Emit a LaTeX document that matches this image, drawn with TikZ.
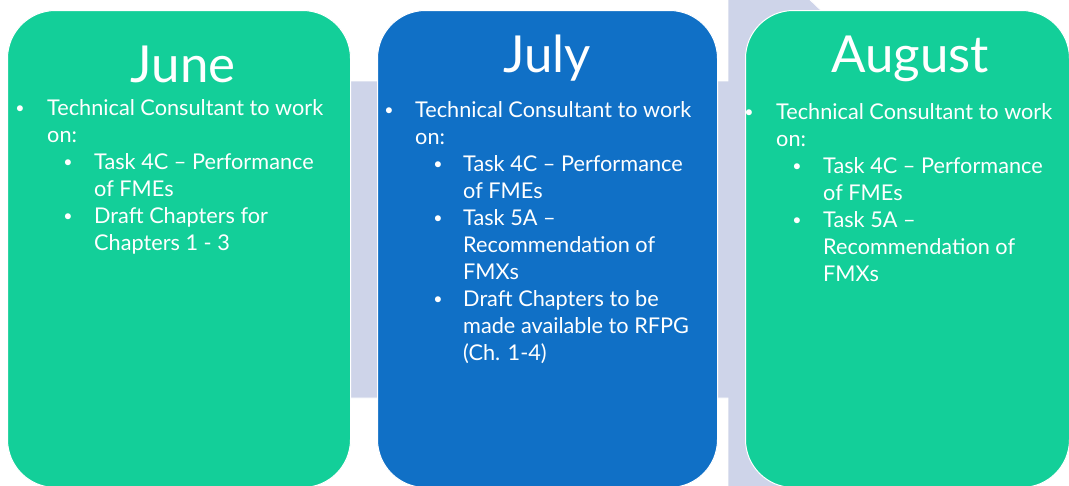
\documentclass[tikz,border=0pt]{standalone}
\usepackage{fontspec}
\setmainfont{Lato}
\definecolor{mgreen}{RGB}{19,207,153}
\definecolor{mblue}{RGB}{16,112,198}
\definecolor{mlav}{RGB}{206,212,233}
\tikzset{
  monthbox/.style={draw=white, line width=1pt, rounded corners=48pt, anchor=north west, inner sep=0pt},
  monthtitle/.style={text=white, font=\fontsize{51}{60}\selectfont, anchor=base, inner sep=0pt},
  item/.style={text=white, font=\fontsize{21.7}{27}\selectfont, anchor=base west, inner sep=0pt},
  dot/.style={text=white, font=\fontsize{16}{27}\selectfont, anchor=base, inner sep=0pt, yshift=1.5pt},
}
\begin{document}
\begin{tikzpicture}[x=1pt,y=-1pt]
\useasboundingbox (0,0) rectangle (1069,485);
\clip (0,0) rectangle (1069,485);
\fill[white] (0,0) rectangle (1069,485);
% background arrow
\draw[fill=mlav, draw=white, line width=0.8pt] (30,81) -- (728,81) -- (728,-79) -- (1060,240) -- (728,559) -- (728,398) -- (30,398) -- cycle;
% month boxes
\node[monthbox, fill=mgreen, minimum width=343pt, minimum height=477pt] (june) at (7,10) {};
\node[monthbox, fill=mblue, minimum width=340pt, minimum height=477pt] (july) at (377,10) {};
\node[monthbox, fill=mgreen, minimum width=324pt, minimum height=477pt] (aug) at (745,10) {};
% titles
\node[monthtitle] (tjune) at (183,82) {June};
\node[monthtitle] (tjuly) at (547,72) {July};
\node[monthtitle] (taug) at (910,72) {August};
% June
\node[dot] (jb1) at (20,115) {•};
\node[item] (j1) at (47,115) {Technical Consultant to work};
\node[item] (j2) at (47,142) {on:};
\node[dot] (jb2) at (68,169) {•};
\node[item] (j3) at (94,169) {Task 4C – Performance};
\node[item] (j4) at (94,196) {of FMEs};
\node[dot] (jb3) at (68,223) {•};
\node[item] (j5) at (94,223) {Draft Chapters for};
\node[item] (j6) at (94,250) {Chapters 1 - 3};
% July
\node[dot] (lb1) at (389,117) {•};
\node[item] (l1) at (415,117) {Technical Consultant to work};
\node[item] (l2) at (415,144) {on:};
\node[dot] (lb2) at (438,171) {•};
\node[item] (l3) at (463,171) {Task 4C – Performance};
\node[item] (l4) at (463,198) {of FMEs};
\node[dot] (lb3) at (438,225) {•};
\node[item] (l5) at (463,225) {Task 5A –};
\node[item] (l6) at (463,252) {Recommendation of};
\node[item] (l7) at (463,279) {FMXs};
\node[dot] (lb4) at (438,306) {•};
\node[item] (l8) at (463,306) {Draft Chapters to be};
\node[item] (l9) at (463,333) {made available to RFPG};
\node[item] (l10) at (463,360) {(Ch. 1-4)};
% August
\node[dot] (ab1) at (749,119) {•};
\node[item] (a1) at (776,119) {Technical Consultant to work};
\node[item] (a2) at (776,146) {on:};
\node[dot] (ab2) at (797,173) {•};
\node[item] (a3) at (823,173) {Task 4C – Performance};
\node[item] (a4) at (823,200) {of FMEs};
\node[dot] (ab3) at (797,227) {•};
\node[item] (a5) at (823,227) {Task 5A –};
\node[item] (a6) at (823,254) {Recommendation of};
\node[item] (a7) at (823,281) {FMXs};
\end{tikzpicture}
\end{document}
